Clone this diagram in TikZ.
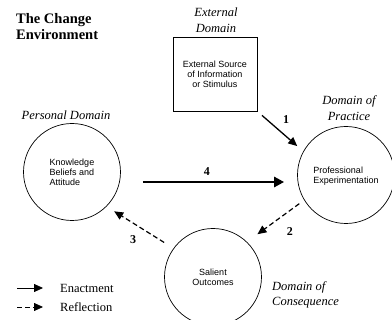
\documentclass[tikz,border=0pt]{standalone}
\usepackage{fontspec}
\setmainfont{Liberation Serif}
\newfontfamily\arialf{Liberation Sans}
\usetikzlibrary{arrows.meta,calc}
\tikzset{
  domcircle/.style={circle,draw,line width=0.7pt,minimum size=97pt,inner sep=0pt,font=\arialf\fontsize{9}{10}\selectfont},
  extbox/.style={draw,line width=0.9pt,minimum width=84pt,minimum height=74pt,inner sep=0pt,font=\arialf\fontsize{9}{10}\selectfont,align=center},
  dlabel/.style={font=\fontsize{12.5}{15.5}\selectfont\itshape,align=center,inner sep=0pt},
  numlabel/.style={font=\fontsize{12}{14}\selectfont\bfseries,inner sep=0pt},
  enact/.style={line width=1.3pt,-{Triangle[length=9pt,width=8pt]}},
  enactthick/.style={line width=2.6pt,-{Triangle[length=10pt,width=10pt]}},
  reflect/.style={line width=1.2pt,dash pattern=on 5pt off 3pt,-{Triangle[length=9pt,width=8pt]}},
  legtext/.style={font=\fontsize{12.5}{14}\selectfont,inner sep=0pt,anchor=west}
}
\begin{document}
\begin{tikzpicture}[x=1pt,y=-1pt]
\useasboundingbox (0,0) rectangle (392,320);
\clip (0,0) rectangle (392,320);
% title
\node[font=\fontsize{14.5}{16}\selectfont\bfseries,align=left,anchor=west,inner sep=0pt] (title) at (16,27) {The Change\\Environment};
% external domain
\node[dlabel] (extlab) at (216,20) {External\\Domain};
\node[extbox] (box) at (215,74) {External Source\\of Information\\or Stimulus};
% circles
\node[domcircle,align=left] (kb) at (72,172) {Knowledge\\Beliefs and\\Attitude};
\node[domcircle,align=left] (pe) at (346,175) {\\[-2pt]Professional\\Experimentation};
\node[domcircle,align=center] (so) at (213,277) {Salient\\Outcomes};
% domain labels
\node[dlabel] (perslab) at (66,115) {Personal Domain};
\node[dlabel] (praclab) at (349,108) {Domain of\\Practice};
\node[dlabel,align=left,anchor=west] (conslab) at (272,295) {Domain of\\Consequence};
% arrows
\draw[enact,shorten <=6pt,shorten >=8pt] (box.south east) -- (pe.151);
\draw[enactthick,shorten <=22pt,shorten >=13pt] ([yshift=-10pt]kb.east) -- ([yshift=-10pt]kb.east -| pe.west);
\draw[reflect,shorten <=6pt,shorten >=13pt] (pe.211) -- (so.46);
\draw[reflect,shorten <=11pt,shorten >=9pt] (so.144) -- (kb.315);
% numbers
\node[numlabel] (n1) at (286,120) {1};
\node[numlabel] (n4) at (207,172) {4};
\node[numlabel] (n2) at (290,232) {2};
\node[numlabel] (n3) at (133,240) {3};
% legend
\node[legtext] (en) at (60,288) {Enactment};
\node[legtext] (re) at (60,307) {Reflection};
\coordinate (l1) at (17,288);
\coordinate (l2) at (17,307);
\draw[enact,line width=0.8pt] (l1) -- ([xshift=-17pt]en.west);
\draw[reflect,line width=0.8pt] (l2) -- ([xshift=-17pt]re.west);
\end{tikzpicture}
\end{document}
